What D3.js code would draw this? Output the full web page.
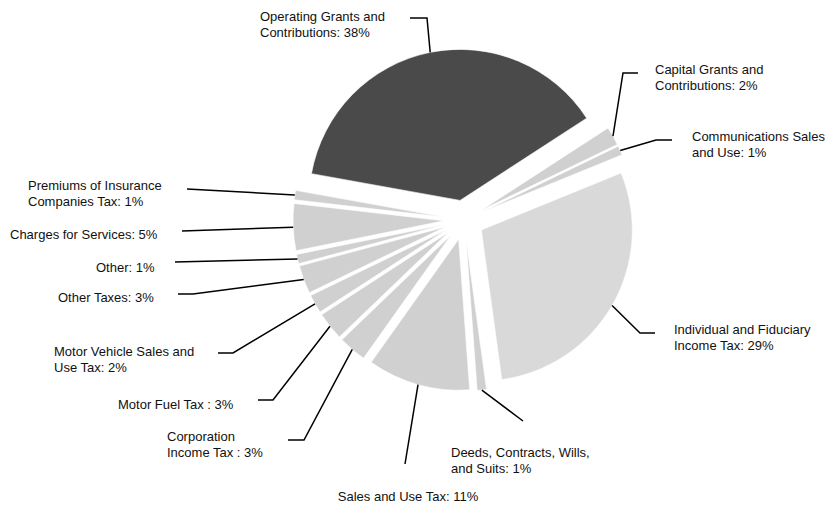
<!DOCTYPE html>
<html>
<head>
<meta charset="utf-8">
<script src="https://cdn.jsdelivr.net/npm/d3@7"></script>
<style>
  body { margin: 0; background: #fff; }
  svg text { font-family: "Liberation Sans", Arial, sans-serif; font-size: 13px; fill: #111; }
</style>
</head>
<body>
<svg id="chart" width="827" height="508"></svg>
<script>
// revenue shares, clockwise from the big slice
var categories = ["Operating Grants and Contributions", "Capital Grants and Contributions",
  "Communications Sales and Use", "Individual and Fiduciary Income Tax",
  "Deeds, Contracts, Wills, and Suits", "Sales and Use Tax", "Corporation Income Tax ",
  "Motor Fuel Tax ", "Motor Vehicle Sales and Use Tax", "Other Taxes", "Other",
  "Charges for Services", "Premiums of Insurance Companies Tax"];
var shares = [38, 2, 1, 29, 1, 11, 3, 3, 2, 3, 1, 5, 1];

// label text lines as wrapped in the picture
var labelLines = [
  ["Operating Grants and", "Contributions: 38%"],
  ["Capital Grants and", "Contributions: 2%"],
  ["Communications Sales", "and Use: 1%"],
  ["Individual and Fiduciary", "Income Tax: 29%"],
  ["Deeds, Contracts, Wills,", "and Suits: 1%"],
  ["Sales and Use Tax: 11%"],
  ["Corporation", "Income Tax : 3%"],
  ["Motor Fuel Tax : 3%"],
  ["Motor Vehicle Sales and", "Use Tax: 2%"],
  ["Other Taxes: 3%"],
  ["Other: 1%"],
  ["Charges for Services: 5%"],
  ["Premiums of Insurance", "Companies Tax: 1%"]
];

// label layout: elbow of leader, end of leader, text x, first baseline, anchor
var labelLayout = [
  {ex: 427, ey: 18, hx: 410, tx: 260, ty: 21, a: "start"},
  {ex: 623, ey: 73, hx: 638, tx: 655, ty: 74, a: "start"},
  {ex: 656, ey: 140, hx: 672, tx: 692, ty: 141, a: "start"},
  {ex: 640, ey: 333, hx: 655, tx: 674, ty: 334, a: "start"},
  {ex: 523, ey: 421, hx: 523, tx: 451, ty: 457, a: "start"},
  {ex: 405, ey: 464, hx: 405, tx: 408, ty: 501, a: "middle"},
  {ex: 304, ey: 440, hx: 288, tx: 167, ty: 441, a: "start"},
  {ex: 273, ey: 400, hx: 258, tx: 118, ty: 409, a: "start"},
  {ex: 233, ey: 353, hx: 218, tx: 54, ty: 356, a: "start"},
  {ex: 193, ey: 294, hx: 178, tx: 58, ty: 302, a: "start"},
  {ex: 175, ey: 262, hx: 175, tx: 96, ty: 272, a: "start"},
  {ex: 182, ey: 231, hx: 182, tx: 10, ty: 239, a: "start"},
  {ex: 187, ey: 189, hx: 187, tx: 28, ty: 190, a: "start"}
];

var cx = 464, cy = 220, R = 151, explode = 20, lineH = 16;
var startDeg = -79.8;

var svg = d3.select("#chart");

var data = categories.map(function(c, i){ return {name: c, value: shares[i], i: i}; });

var pie = d3.pie()
  .sort(null)
  .value(function(d){ return d.value; })
  .startAngle(startDeg * Math.PI / 180)
  .endAngle((startDeg + 360) * Math.PI / 180);

var arcs = pie(data);
var arc = d3.arc().innerRadius(0).outerRadius(R);

function offset(d){
  var m = (d.startAngle + d.endAngle) / 2;
  return [explode * Math.sin(m), -explode * Math.cos(m)];
}

function fillFor(i){
  if (i === 0) return "#4a4a4a";
  if (i === 3) return "#d9d9d9";
  return "#d0d0d0";
}

var g = svg.append("g").attr("transform", "translate(" + cx + "," + cy + ")");

g.selectAll("path.slice")
  .data(arcs)
  .enter().append("path")
  .attr("class", "slice")
  .attr("d", arc)
  .attr("transform", function(d){ var o = offset(d); return "translate(" + o[0] + "," + o[1] + ")"; })
  .attr("fill", function(d){ return fillFor(d.data.i); })
  .attr("stroke", "#fff")
  .attr("stroke-width", 0.6);

// leader lines, from the outer edge of each exploded slice
var line = d3.line();
svg.selectAll("path.leader")
  .data(arcs)
  .enter().append("path")
  .attr("class", "leader")
  .attr("fill", "none")
  .attr("stroke", "#000")
  .attr("stroke-width", 1.5)
  .attr("d", function(d){
    var m = (d.startAngle + d.endAngle) / 2;
    var o = offset(d);
    var sx = cx + o[0] + R * Math.sin(m), sy = cy + o[1] - R * Math.cos(m);
    var L = labelLayout[d.data.i];
    var pts = [[sx, sy], [L.ex, L.ey]];
    if (L.hx !== L.ex) pts.push([L.hx, L.ey]);
    return line(pts);
  });

var labels = svg.selectAll("text.lbl")
  .data(arcs)
  .enter().append("text")
  .attr("class", "lbl")
  .attr("text-anchor", function(d){ return labelLayout[d.data.i].a; });

labels.each(function(d){
  var L = labelLayout[d.data.i];
  d3.select(this).selectAll("tspan")
    .data(labelLines[d.data.i])
    .enter().append("tspan")
    .attr("x", L.tx)
    .attr("y", function(t, k){ return L.ty + k * lineH; })
    .text(function(t){ return t; });
});
</script>
</body>
</html>
